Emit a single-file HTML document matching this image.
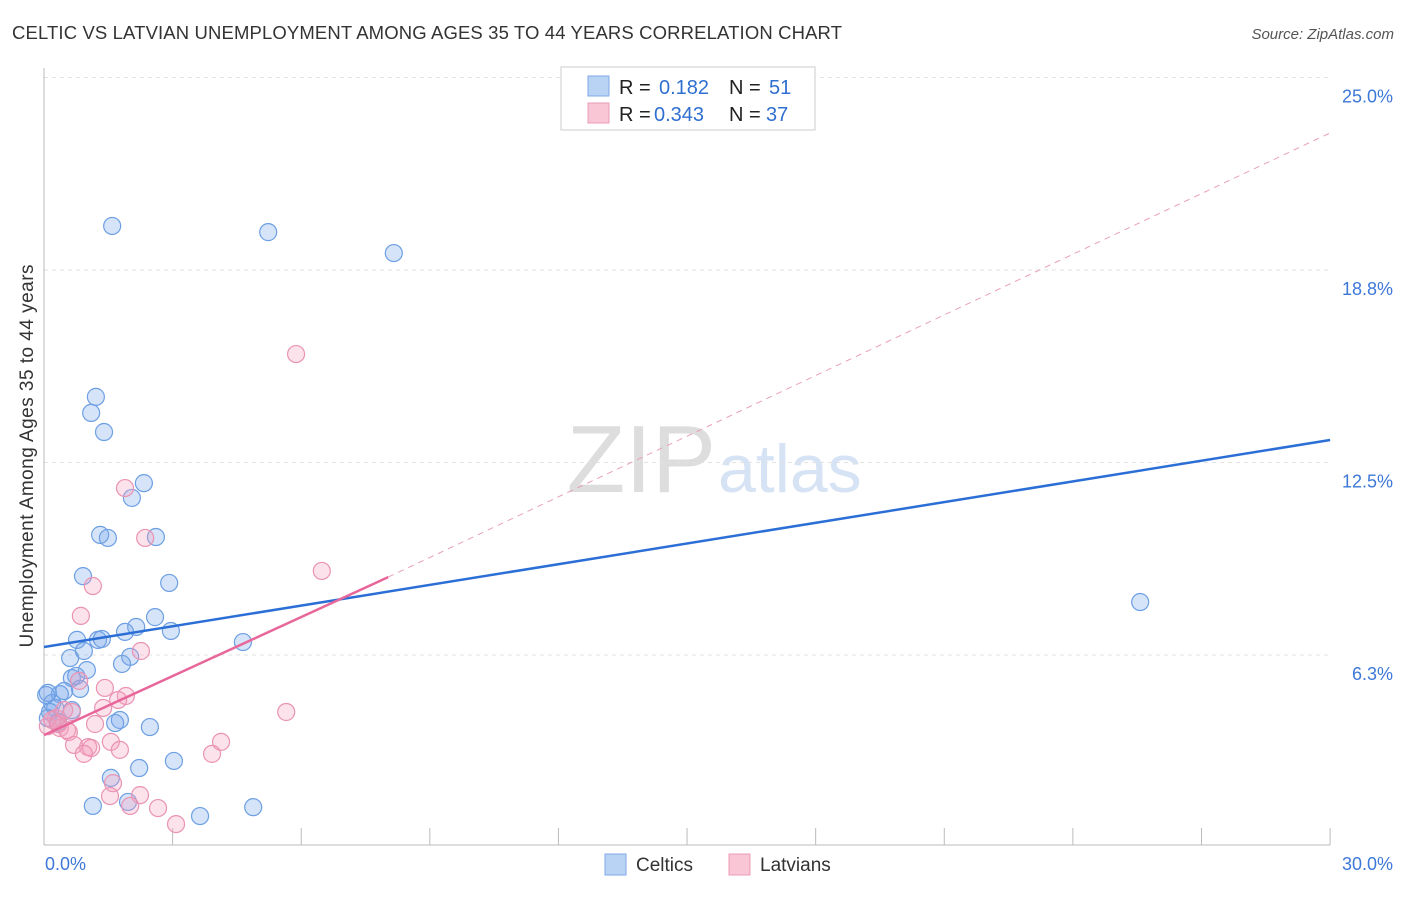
<!DOCTYPE html>
<html><head><meta charset="utf-8"><style>
body{margin:0;background:#fff;font-family:"Liberation Sans",sans-serif;}
svg text{font-family:"Liberation Sans",sans-serif;}
</style></head><body>
<svg id="chart" width="1406" height="892">
<text x="12" y="39" font-size="18.5" fill="#333" textLength="830">CELTIC VS LATVIAN UNEMPLOYMENT AMONG AGES 35 TO 44 YEARS CORRELATION CHART</text>
<text x="1394" y="39" font-size="15" fill="#555" font-style="italic" text-anchor="end">Source: ZipAtlas.com</text>
<text x="33" y="456" font-size="19" fill="#333" text-anchor="middle" textLength="383" transform="rotate(-90 33 456)">Unemployment Among Ages 35 to 44 years</text>
<text x="716" y="492" font-size="96" fill="#ddd" font-family="Liberation Serif" text-anchor="end">ZIP</text>
<text x="718" y="492" font-size="68" fill="#d6e3f5">atlas</text>
<g id="grid"></g><g id="axes"></g><g id="trend"></g><g id="pts"></g>
<g>
<rect x="561" y="67" width="254" height="63" fill="#fff" stroke="#ccc"/>
<rect x="588" y="76" width="21" height="20" fill="#b9d3f5" stroke="#7fa9e6"/>
<rect x="588" y="103" width="21" height="20" fill="#f9c6d6" stroke="#eb9bb7"/>
<text x="619" y="94" font-size="20" fill="#222">R = </text><text x="659" y="94" font-size="20" fill="#2f6fd0">0.182</text>
<text x="729" y="94" font-size="20" fill="#222">N = </text><text x="769" y="94" font-size="20" fill="#2f6fd0">51</text>
<text x="619" y="121" font-size="20" fill="#222">R = </text><text x="654" y="121" font-size="20" fill="#2f6fd0">0.343</text>
<text x="729" y="121" font-size="20" fill="#222">N = </text><text x="766" y="121" font-size="20" fill="#2f6fd0">37</text>
</g>
<g>
<rect x="605" y="854" width="21" height="21" fill="#b9d3f5" stroke="#7fa9e6"/>
<text x="636" y="871" font-size="19" fill="#333">Celtics</text>
<rect x="729" y="854" width="21" height="21" fill="#f9c6d6" stroke="#eb9bb7"/>
<text x="760" y="871" font-size="19" fill="#333">Latvians</text>
</g>
</svg>
<script>
const yTicks=[6.25,12.5,18.75,25];
const yTickLabels=["6.3%","12.5%","18.8%","25.0%"];
const celticsX=[1.59,5.23,8.16,1.21,1.10,1.40,2.33,2.05,1.31,1.49,2.61,0.91,2.92,2.59,2.15,1.89,2.96,0.77,1.26,1.35,4.64,0.93,0.61,2.01,1.82,1.00,0.65,0.75,0.84,0.47,0.37,0.09,0.19,0.26,0.65,0.14,0.09,0.33,1.77,1.66,2.47,3.03,2.22,1.56,1.14,1.96,4.88,3.64,25.57,0.33,0.05];
const celticsY=[20.18,19.98,19.30,14.63,14.11,13.49,11.83,11.35,10.15,10.05,10.08,8.81,8.59,7.48,7.16,7.00,7.03,6.74,6.74,6.77,6.67,6.38,6.15,6.19,5.96,5.76,5.50,5.57,5.15,5.08,4.98,5.02,4.69,4.53,4.46,4.40,4.20,4.07,4.14,4.04,3.91,2.81,2.58,2.26,1.35,1.48,1.31,1.02,7.97,4.01,4.95];
const latviansX=[5.88,1.89,2.36,6.48,1.14,0.86,2.26,0.82,1.42,1.91,1.73,1.38,5.65,0.65,0.28,1.19,0.37,0.58,0.09,1.56,4.13,0.70,1.03,1.10,1.77,0.93,3.92,1.61,1.54,2.24,2.01,2.66,3.08,0.19,0.33,0.47,0.54];
const latviansY=[16.02,11.67,10.05,8.98,8.49,7.52,6.38,5.41,5.18,4.92,4.79,4.53,4.40,4.40,4.20,4.01,3.88,3.75,3.94,3.43,3.43,3.33,3.26,3.23,3.17,3.04,3.04,2.09,1.67,1.70,1.35,1.28,0.76,4.14,4.01,4.46,3.81];
const celticsTrend=[6.51,13.23];
const latviansTrend=[3.65,8.03,8.78,23.2];
const NS='http://www.w3.org/2000/svg';
const xs=v=>44+v*42.87, ys=v=>847.5-v*30.8;
function mk(p,t,a){const e=document.createElementNS(NS,t);for(const k in a)e.setAttribute(k,a[k]);document.getElementById(p).appendChild(e);return e;}
let l=mk('grid','line',{x1:44,x2:1330,y1:ys(25),y2:ys(25),stroke:'#ddd','stroke-dasharray':'4,4'});


yTicks.forEach((t,i)=>{
 const g=mk('grid','line',{x1:44,x2:1330,y1:ys(t),y2:ys(t),stroke:'#e2e2e2','stroke-dasharray':'4,4'});
 
 
 const tx=mk('axes','text',{x:1393,y:ys(t)+25,'font-size':18,fill:'#3d78d8','text-anchor':'end'});
 tx.textContent=yTickLabels[i];
 
 
});
let ax=mk('axes','line',{x1:44,x2:1330,y1:845,y2:845,stroke:'#bbb'});


let ay=mk('axes','line',{x1:44,x2:44,y1:68,y2:845,stroke:'#bbb'});


for(let i=1;i<=10;i++){const t=mk('axes','line',{x1:xs(i*3),x2:xs(i*3),y1:828,y2:845,stroke:'#bbb'});
 
 }
let a0=mk('axes','text',{x:45,y:870,'font-size':18,fill:'#3d78d8'});a0.textContent='0.0%';


let a1=mk('axes','text',{x:1393,y:870,'font-size':18,fill:'#3d78d8','text-anchor':'end'});a1.textContent='30.0%';


let pd=mk('trend','line',{x1:xs(latviansTrend[1]),y1:ys(latviansTrend[2]),x2:xs(30),y2:ys(latviansTrend[3]),stroke:'#e9a0b8','stroke-dasharray':'6,5','stroke-width':1});


function pts(X,Y,fill,stroke,name){X.forEach((x,i)=>{const c=mk('pts','circle',{cx:xs(x),cy:ys(Y[i]),r:8.5,fill:fill,stroke:stroke,'stroke-width':1.2});
 
 });}
pts(celticsX,celticsY,'rgba(120,165,235,0.3)','#6d9fe3','celtics-point');
pts(latviansX,latviansY,'rgba(244,160,190,0.3)','#ea93b3','latvians-point');
let bt=mk('trend','line',{x1:xs(0),y1:ys(celticsTrend[0]),x2:xs(30),y2:ys(celticsTrend[1]),stroke:'#2b6fd6','stroke-width':2.5});


let pt=mk('trend','line',{x1:xs(0),y1:ys(latviansTrend[0]),x2:xs(latviansTrend[1]),y2:ys(latviansTrend[2]),stroke:'#e8679a','stroke-width':2.5});


document.getElementById('chart').appendChild(document.getElementById('trend'));
</script>
</body></html>
